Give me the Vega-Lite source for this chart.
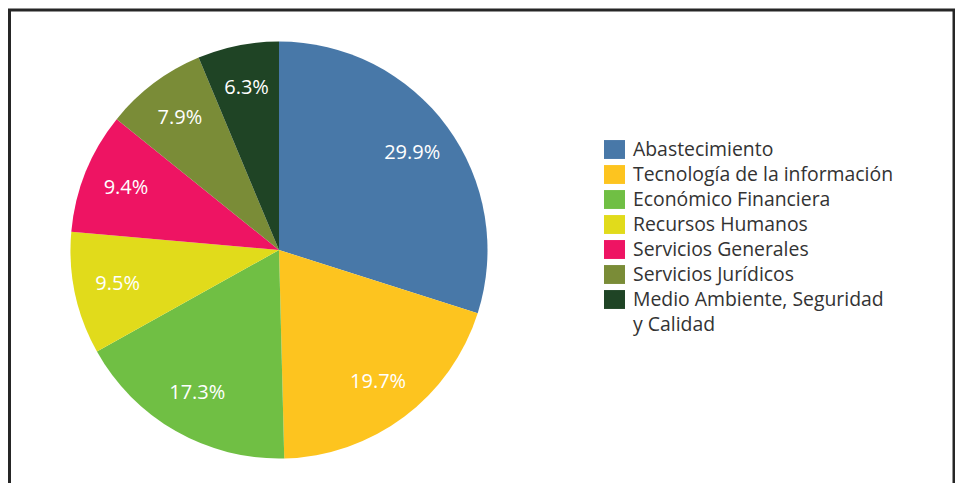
{
  "$schema": "https://vega.github.io/schema/vega-lite/v6.json",
  "autosize": {"type": "none"},
  "padding": {"left": 9.5, "top": 10, "right": 1, "bottom": 0},
  "width": 944.5,
  "height": 473,
  "background": "white",
  "view": {"stroke": "#262626", "strokeWidth": 3, "strokeDash": [1417.5, 944.5, 473], "fill": null},
  "config": {
    "font": "Open Sans"
  },
  "data": {
    "values": [
      {"area": "Abastecimiento", "share": 0.299, "ord": 1},
      {"area": "Tecnología de la información", "share": 0.197, "ord": 2},
      {"area": "Económico Financiera", "share": 0.173, "ord": 3},
      {"area": "Recursos Humanos", "share": 0.095, "ord": 4},
      {"area": "Servicios Generales", "share": 0.094, "ord": 5},
      {"area": "Servicios Jurídicos", "share": 0.079, "ord": 6},
      {"area": "Medio Ambiente, Seguridad y Calidad", "share": 0.063, "ord": 7}
    ]
  },
  "encoding": {
    "theta": {"field": "share", "type": "quantitative", "stack": true},
    "order": {"field": "ord", "type": "quantitative", "sort": "ascending"},
    "color": {
      "field": "area",
      "type": "nominal",
      "scale": {
        "domain": ["Abastecimiento", "Tecnología de la información", "Económico Financiera", "Recursos Humanos", "Servicios Generales", "Servicios Jurídicos", "Medio Ambiente, Seguridad y Calidad"],
        "range": ["#4878A8", "#FDC41F", "#70BF44", "#E1DB1B", "#EE1463", "#7A8C37", "#1F4425"]
      },
      "legend": {
        "title": null,
        "orient": "none",
        "legendX": 594.5,
        "legendY": 129,
        "padding": 0,
        "symbolType": "M-1,-0.9H1V0.9H-1Z",
        "symbolSize": 441,
        "symbolStrokeWidth": 0,
        "symbolOpacity": 1,
        "labelFont": "Open Sans",
        "labelFontSize": 19.4,
        "labelColor": "#333333",
        "labelOffset": 8,
        "labelLimit": 400,
        "rowPadding": 5,
        "labelExpr": "datum.label == 'Medio Ambiente, Seguridad y Calidad' ? ['Medio Ambiente, Seguridad', 'y Calidad'] : datum.label",
        "encode": {
          "labels": {
            "update": {
              "lineHeight": {"value": 25}
            }
          }
        }
      }
    }
  },
  "layer": [
    {
      "mark": {"type": "arc", "outerRadius": 208.5, "x": {"expr": "width * 0.28534"}, "y": {"expr": "height * 0.5074"}}
    },
    {
      "mark": {"type": "text", "radius": 165, "fill": "white", "fontSize": 20, "font": "Open Sans", "x": {"expr": "width * 0.28534"}, "y": {"expr": "height * 0.5074"}},
      "encoding": {
        "text": {"field": "share", "type": "quantitative", "format": ".1%"},
        "color": {"value": "white"}
      }
    }
  ]
}
